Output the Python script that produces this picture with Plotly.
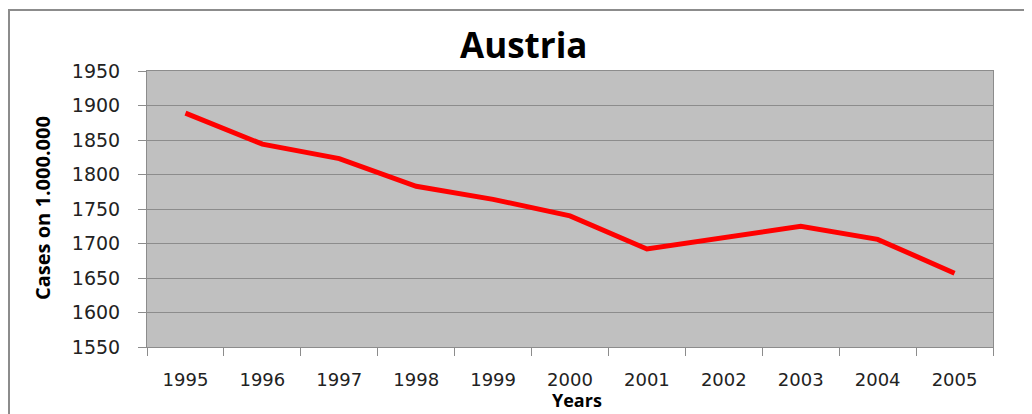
import plotly.graph_objects as go

years = ["1995", "1996", "1997", "1998", "1999", "2000", "2001", "2002", "2003", "2004", "2005"]
cases = [1889, 1844, 1823, 1783, 1764, 1740, 1692, 1708, 1725, 1706, 1657]
y_ticks = [1550, 1600, 1650, 1700, 1750, 1800, 1850, 1900, 1950]

# the page body has an 8px margin, so the figure starts at (8, 8)
OFF = 8
W, H = 1032 - OFF, 414 - OFF
L, T = 147 - OFF, 71 - OFF
R, B = W - (993 - OFF), H - (347 - OFF)
pw, ph = W - L - R, H - T - B

def px_x(p):
    return (p - OFF - L) / pw

def px_y(p):
    return (H - B - (p - OFF)) / ph

fig = go.Figure()
fig.add_trace(go.Scatter(
    x=years, y=cases, mode="lines",
    line=dict(color="#FF0000", width=5),
    showlegend=False, hoverinfo="x+y",
))

tick_font = dict(family="DejaVu Sans", size=19, color="#222222")
xtick_font = dict(family="DejaVu Sans", size=18, color="#222222")
title_font = "Open Sans"

fig.update_layout(
    width=W, height=H,
    margin=dict(l=L, r=R, t=T, b=B, pad=0),
    paper_bgcolor="white",
    plot_bgcolor="#C0C0C0",
    showlegend=False,
    xaxis=dict(
        type="category",
        range=[-0.5, len(years) - 0.5],
        tickson="boundaries",
        ticks="outside", ticklen=8, tickwidth=1, tickcolor="#8c8c8c",
        showgrid=False,
        showline=True, linecolor="#8c8c8c", linewidth=1, mirror=True,
        tickfont=xtick_font,
        ticklabelstandoff=16,
        zeroline=False,
    ),
    yaxis=dict(
        range=[1550, 1950],
        tickvals=y_ticks,
        ticktext=[str(v) for v in y_ticks],
        ticks="outside", ticklen=8, tickwidth=1, tickcolor="#8c8c8c",
        showgrid=True, gridcolor="#8c8c8c", gridwidth=1,
        showline=True, linecolor="#8c8c8c", linewidth=1, mirror=True,
        tickfont=tick_font,
        ticklabelstandoff=14,
        zeroline=False,
    ),
    annotations=[
        dict(text="<b>Austria</b>", x=px_x(523), y=px_y(44), xref="paper", yref="paper",
             xanchor="center", yanchor="middle", showarrow=False,
             font=dict(family=title_font, size=35, color="black")),
        dict(text="<b>Years</b>", x=px_x(577), y=px_y(414), xref="paper", yref="paper",
             xanchor="center", yanchor="bottom", showarrow=False,
             font=dict(family=title_font, size=18, color="black")),
        dict(text="<b>Cases on 1.000.000</b>", x=px_x(42), y=px_y(208), xref="paper", yref="paper",
             xanchor="center", yanchor="middle", showarrow=False, textangle=-90,
             font=dict(family=title_font, size=20, color="black")),
    ],
    shapes=[
        dict(type="line", xref="paper", yref="paper", x0=px_x(8), x1=px_x(1032),
             y0=px_y(10), y1=px_y(10), line=dict(color="#8c8c8c", width=2)),
        dict(type="line", xref="paper", yref="paper", x0=px_x(9), x1=px_x(9),
             y0=px_y(10), y1=px_y(414), line=dict(color="#8c8c8c", width=2)),
    ],
)

fig.write_html("out.html")
